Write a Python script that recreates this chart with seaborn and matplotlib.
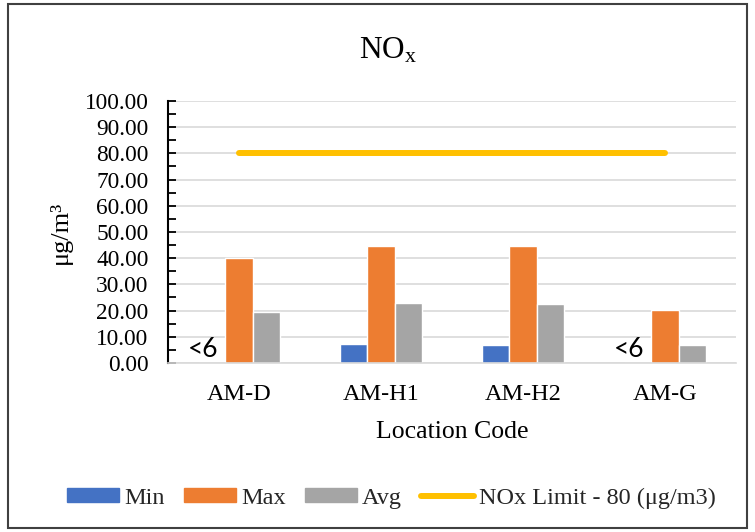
import matplotlib
matplotlib.use("Agg")
import matplotlib.pyplot as plt
from matplotlib.patches import Rectangle
from matplotlib.ticker import MultipleLocator, FormatStrFormatter
import seaborn as sns
import pandas as pd

# Measured NOx concentrations (µg/m³) per monitoring location
locations = ["AM-D", "AM-H1", "AM-H2", "AM-G"]
nox_min = [0.0, 7.1, 6.8, 0.0]
nox_max = [40.2, 44.5, 44.8, 20.2]
nox_avg = [19.6, 22.8, 22.4, 6.9]
nox_limit = [80, 80, 80, 80]
min_notes = ["<6", None, None, "<6"]

series_names = ["Min", "Max", "Avg"]
series_colors = ["#4472C4", "#ED7D31", "#A5A5A5"]
limit_color = "#FFC000"
limit_label = "NOx Limit - 80 (\u03bcg/m3)"

df = pd.DataFrame({
    "Location": locations * 3,
    "Series": [s for s in series_names for _ in locations],
    "Value": nox_min + nox_max + nox_avg,
})

sns.set_theme(style="white")
plt.rcParams["font.family"] = ["Liberation Serif", "DejaVu Serif"]
plt.rcParams["mathtext.fontset"] = "custom"
plt.rcParams["mathtext.rm"] = "Liberation Serif"
plt.rcParams["mathtext.it"] = "Liberation Serif:italic"

fig = plt.figure(figsize=(7.55, 5.32), dpi=100)
ax = fig.add_axes([0.2225, 0.3177, 0.7525, 0.4925])

sns.barplot(data=df, x="Location", y="Value", hue="Series",
            hue_order=series_names, palette=series_colors,
            width=0.58, dodge=True, saturation=1, errorbar=None,
            legend=False, ax=ax)

limit_line, = ax.plot(range(len(locations)), nox_limit, color=limit_color,
                      lw=4.3, solid_capstyle="round", zorder=3)

# "<6" notes where the minimum is below detection
min_bars = ax.containers[0]
for bar, note in zip(min_bars, min_notes):
    if note:
        ax.annotate(note, (bar.get_x() + bar.get_width() / 2, 5),
                    xytext=(-6, 0), textcoords="offset points",
                    ha="center", va="center", fontsize=19,
                    family=["Lato", "DejaVu Sans"], color="black")

ax.set_ylim(0, 100)
ax.set_xlim(-0.5, len(locations) - 0.5)
ax.yaxis.set_major_locator(MultipleLocator(10))
ax.yaxis.set_minor_locator(MultipleLocator(5))
ax.yaxis.set_major_formatter(FormatStrFormatter("%.2f"))
ax.grid(axis="y", which="major", color="#D9D9D9", lw=1.2)
ax.set_axisbelow(True)

for side in ["top", "right"]:
    ax.spines[side].set_visible(False)
ax.spines["left"].set_color("black")
ax.spines["left"].set_linewidth(1.5)
ax.spines["bottom"].set_color("#D9D9D9")
ax.spines["bottom"].set_linewidth(1.2)

ax.tick_params(axis="y", which="both", direction="in", length=6, width=1.3,
               color="black", left=True, labelsize=16.8, pad=14)
ax.tick_params(axis="x", length=0, labelsize=17.5, pad=15)
for lbl in ax.get_yticklabels() + ax.get_xticklabels():
    lbl.set_color("black")

ax.set_xlabel("Location Code", fontsize=18.5, color="black", labelpad=12)
ax.set_ylabel("\u03bcg/m\u00b3", fontsize=19, color="black", labelpad=9)

fig.text(0.514, 0.905, r"NO$_{\mathrm{x}}$", ha="center", va="center",
         fontsize=22.5, color="black")

handles = [plt.Rectangle((0, 0), 1, 1, color=c) for c in series_colors]
handles.append(limit_line)
fig.legend(handles, series_names + [limit_label], loc="center",
           bbox_to_anchor=(0.518, 0.064), ncol=4, frameon=False,
           fontsize=17.5, handlelength=2.15, handleheight=0.55,
           handletextpad=0.2, columnspacing=0.8)

fig.add_artist(Rectangle((0.011, 0.008), 0.978, 0.984, transform=fig.transFigure,
                         fill=False, edgecolor="#404040", lw=1.5))

fig.savefig("out.png", dpi=100)
